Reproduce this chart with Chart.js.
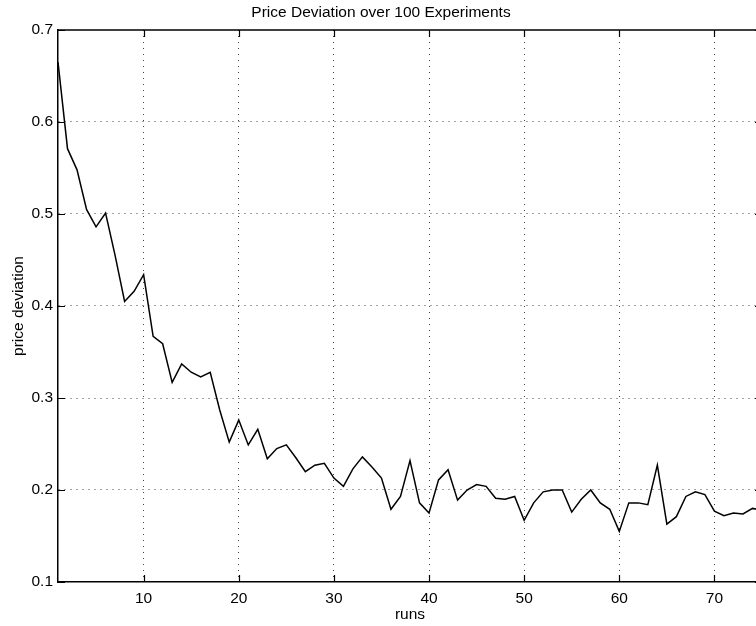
<!DOCTYPE html>
<html>
<head>
<meta charset="utf-8">
<script src="https://cdn.jsdelivr.net/npm/chart.js@4/dist/chart.umd.min.js"></script>
<style>
  html, body { margin: 0; padding: 0; background: #fff; overflow: hidden; }
  #wrap { width: 762px; height: 626px; }
</style>
</head>
<body>
<div id="wrap"><canvas id="grafica" width="762" height="626"></canvas></div>
<script>
// price deviation per run
const deviation = [
  0.665, 0.571, 0.548, 0.505, 0.486, 0.501, 0.455, 0.405, 0.416, 0.434,
  0.367, 0.359, 0.317, 0.337, 0.328, 0.323, 0.328, 0.287, 0.252, 0.276,
  0.249, 0.266, 0.234, 0.245, 0.249, 0.235, 0.220, 0.227, 0.229, 0.213,
  0.204, 0.223, 0.236, 0.225, 0.213, 0.179, 0.193, 0.232, 0.186, 0.175,
  0.211, 0.222, 0.189, 0.200, 0.206, 0.204, 0.191, 0.190, 0.193, 0.167,
  0.186, 0.198, 0.200, 0.200, 0.176, 0.190, 0.200, 0.186, 0.179, 0.155,
  0.186, 0.186, 0.184, 0.227, 0.163, 0.171, 0.193, 0.198, 0.195, 0.177,
  0.172, 0.175, 0.174, 0.180, 0.178
];
const runs = deviation.map((_, i) => i + 1);
const xTicks = [10, 20, 30, 40, 50, 60, 70];
const yTicks = [0.1, 0.2, 0.3, 0.4, 0.5, 0.6, 0.7];

const fuente = "'Liberation Sans', Arial, Helvetica, sans-serif";

// marco superior y marcas hacia dentro (estilo matlab)
const marcoPlugin = {
  id: 'marco',
  afterDraw(chart) {
    const ctx = chart.ctx;
    const a = chart.chartArea;
    const xs = chart.scales.x, ys = chart.scales.y;
    const len = 7;
    ctx.save();
    ctx.strokeStyle = '#000';
    ctx.lineWidth = 1.5;
    ctx.beginPath();
    ctx.moveTo(a.left, a.top);
    ctx.lineTo(a.right, a.top);
    ctx.stroke();
    ctx.lineWidth = 1.2;
    ctx.beginPath();
    xTicks.forEach(v => {
      const px = Math.round(xs.getPixelForValue(v)) + 0.5;
      ctx.moveTo(px, a.bottom); ctx.lineTo(px, a.bottom - len);
      ctx.moveTo(px, a.top); ctx.lineTo(px, a.top + len);
    });
    yTicks.forEach(v => {
      const py = Math.round(ys.getPixelForValue(v)) + 0.5;
      ctx.moveTo(a.left, py); ctx.lineTo(a.left + len, py);
      ctx.moveTo(a.right, py); ctx.lineTo(a.right - len, py);
    });
    ctx.stroke();
    ctx.restore();
  }
};

const ctx = document.getElementById('grafica').getContext('2d');
new Chart(ctx, {
  type: 'line',
  data: {
    datasets: [{
      label: 'price deviation',
      data: runs.map((r, i) => ({ x: r, y: deviation[i] })),
      borderColor: '#000',
      borderWidth: 1.5,
      pointRadius: 0,
      tension: 0,
      fill: false
    }]
  },
  options: {
    responsive: false,
    animation: false,
    devicePixelRatio: 1,
    layout: { padding: 0 },
    plugins: {
      legend: { display: false },
      tooltip: { enabled: false },
      title: {
        display: true,
        text: 'Price Deviation over 100 Experiments',
        color: '#000',
        font: { family: fuente, size: 15.5, weight: 'normal', lineHeight: 1.2 },
        padding: { top: 3, bottom: 8.4 }
      }
    },
    scales: {
      x: {
        type: 'linear',
        min: 1,
        max: 75,
        afterBuildTicks: s => { s.ticks = xTicks.map(v => ({ value: v })); },
        afterFit: s => { s.height = 44; },
        ticks: {
          color: '#000',
          padding: 7,
          maxRotation: 0,
          font: { family: fuente, size: 15.5 }
        },
        grid: { color: '#444', lineWidth: 1, drawTicks: false },
        border: { display: true, color: '#000', width: 1.5, dash: [1, 5] },
        title: {
          display: true,
          text: 'runs',
          color: '#000',
          font: { family: fuente, size: 15.5, lineHeight: 1.2 },
          padding: { top: 0, bottom: 2 }
        }
      },
      y: {
        min: 0.1,
        max: 0.7,
        afterBuildTicks: s => { s.ticks = yTicks.map(v => ({ value: v })); },
        afterFit: s => { s.width = 58; },
        ticks: {
          color: '#000',
          padding: 5,
          font: { family: fuente, size: 15.5 },
          callback: v => v.toFixed(1)
        },
        grid: {
          color: c => (c.tick && (c.tick.value <= 0.1001 || c.tick.value >= 0.6999)) ? 'rgba(0,0,0,0)' : '#444',
          lineWidth: 1,
          drawTicks: false
        },
        border: { display: true, color: '#000', width: 1.5, dash: [1, 5] },
        title: {
          display: true,
          text: 'price deviation',
          color: '#000',
          font: { family: fuente, size: 15.5, lineHeight: 1.2 },
          padding: { top: 9, bottom: 0 }
        }
      }
    }
  },
  plugins: [marcoPlugin]
});
</script>
</body>
</html>
